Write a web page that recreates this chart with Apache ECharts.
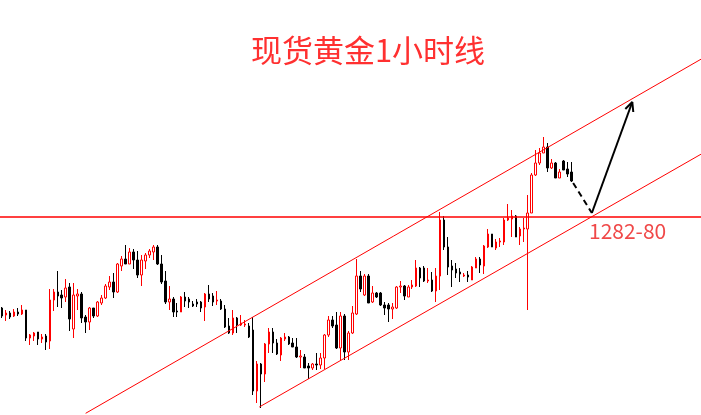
<!DOCTYPE html>
<html>
<head>
<meta charset="utf-8">
<script src="https://cdn.jsdelivr.net/npm/echarts@6/dist/echarts.min.js"></script>
<style>
html,body{margin:0;padding:0;background:#fff;}
#c{width:701px;height:415px;}
</style>
</head>
<body>
<div id="c"></div>
<script>
// ---- data (1-hour spot gold candles) ----
const opens = [
1272.9,1272.2,1272.4,1272.1,1272.5,1272.3,1272.7,1269.9,1270.1,1270.5,
1269.8,1270.1,1269.6,1273.7,1274.5,1274.2,1274.0,1275.0,1270.8,1274.1,
1274.3,1272.0,1271.5,1272.9,1272.1,1273.4,1273.9,1275.0,1275.5,1274.5,
1277.1,1277.8,1277.3,1278.5,1277.7,1276.2,1277.6,1278.2,1278.5,1279.0,
1277.3,1275.6,1273.5,1273.8,1272.6,1272.5,1274.0,1273.8,1273.3,1273.5,
1273.5,1273.0,1274.3,1274.1,1273.6,1273.6,1272.8,1271.1,1270.4,1271.9,
1271.2,1271.2,1271.1,1270.7,1264.6,1267.3,1266.3,1269.3,1270.5,1269.4,
1268.2,1269.8,1270.0,1269.4,1269.0,1268.0,1268.0,1267.1,1266.9,1267.3,
1267.2,1267.9,1270.2,1271.7,1271.2,1268.9,1272.1,1268.5,1270.4,1272.3,
1276.1,1274.2,1276.1,1273.5,1274.4,1274.4,1273.2,1273.2,1272.8,1272.9,
1275.0,1275.1,1274.0,1275.0,1275.1,1276.9,1276.9,1275.6,1275.7,1274.6,
1276.1,1281.7,1279.0,1277.1,1276.8,1276.5,1276.1,1276.2,1275.7,1276.9,
1277.8,1277.1,1279.0,1280.3,1278.9,1279.5,1279.5,1281.7,1281.8,1282.1,
1280.1,1280.8,1280.8,1282.4,1286.2,1287.4,1288.4,1289.0,1286.9,1287.4,
1285.9,1287.6,1286.8,1286.5
];
const closes = [
1272.1,1272.4,1272.0,1272.5,1272.3,1272.7,1269.9,1270.2,1270.4,1269.8,
1270.0,1269.5,1273.7,1274.5,1274.1,1273.9,1274.9,1271.8,1274.2,1274.3,
1271.9,1271.5,1272.9,1272.1,1273.5,1273.9,1275.1,1275.5,1274.5,1277.3,
1277.8,1277.3,1278.5,1277.7,1276.2,1277.7,1278.2,1278.6,1279.0,1277.3,
1275.5,1273.5,1273.8,1272.5,1272.5,1274.0,1273.6,1273.5,1273.1,1273.3,
1272.9,1274.3,1273.8,1273.5,1273.7,1272.8,1271.0,1270.4,1271.9,1271.2,
1271.4,1271.3,1270.0,1264.6,1267.3,1266.3,1269.3,1270.5,1269.4,1268.3,
1269.9,1270.0,1269.3,1269.0,1268.0,1268.1,1266.9,1266.9,1267.3,1267.2,
1267.9,1270.2,1271.7,1271.1,1268.9,1272.1,1268.5,1270.4,1272.4,1276.1,
1274.8,1276.1,1273.4,1274.4,1274.0,1273.2,1272.9,1272.8,1273.0,1275.0,
1275.1,1274.1,1275.0,1275.2,1276.9,1275.9,1275.6,1275.7,1274.6,1276.1,
1281.7,1279.0,1277.0,1276.7,1276.4,1276.3,1276.2,1276.0,1277.0,1277.8,
1277.2,1279.1,1280.3,1279.0,1279.5,1279.6,1281.7,1281.9,1282.1,1280.0,
1280.8,1280.9,1282.4,1286.2,1287.4,1288.4,1289.0,1286.9,1287.4,1285.9,
1286.5,1286.7,1286.3,1285.6
];
const lows = [
1271.9,1271.6,1271.8,1272.0,1272.1,1272.2,1269.6,1269.2,1269.6,1269.2,
1269.4,1268.7,1268.8,1272.6,1273.0,1272.9,1273.5,1270.6,1269.9,1272.7,
1271.4,1270.4,1270.7,1271.9,1272.0,1273.2,1273.8,1274.7,1273.9,1274.4,
1276.6,1277.3,1277.3,1276.8,1275.9,1275.1,1276.8,1277.9,1277.7,1277.2,
1275.3,1273.3,1272.7,1272.0,1272.0,1272.5,1273.0,1272.9,1273.0,1273.0,
1272.5,1271.6,1273.5,1273.1,1273.2,1272.7,1270.9,1270.3,1270.2,1270.4,
1271.1,1271.0,1269.9,1264.2,1263.4,1262.9,1265.5,1268.4,1268.4,1268.2,
1267.6,1269.6,1269.2,1269.0,1267.9,1266.9,1266.9,1265.8,1266.7,1266.7,
1266.8,1266.8,1270.0,1270.9,1268.8,1267.7,1267.7,1267.7,1270.3,1272.2,
1274.5,1274.1,1273.4,1273.4,1273.9,1273.1,1272.2,1271.5,1271.8,1272.8,
1274.4,1273.7,1274.0,1274.8,1275.0,1275.0,1275.5,1275.4,1274.5,1273.5,
1274.7,1278.7,1276.2,1275.0,1275.9,1275.5,1276.0,1275.5,1275.7,1276.9,
1276.4,1276.3,1278.9,1279.0,1278.7,1279.0,1279.2,1281.6,1280.0,1280.0,
1279.2,1279.5,1272.7,1282.4,1286.1,1287.2,1288.4,1286.5,1286.8,1285.9,
1285.9,1286.7,1286.0,1285.5
];
const highs = [
1273.0,1272.7,1272.6,1272.8,1272.9,1273.2,1272.7,1270.3,1270.5,1270.5,
1270.3,1270.3,1274.8,1274.8,1276.6,1274.7,1275.8,1275.4,1275.4,1274.8,
1274.5,1272.2,1273.0,1272.9,1273.6,1274.2,1275.3,1276.1,1276.4,1277.4,
1278.1,1279.2,1278.9,1278.8,1278.6,1278.2,1278.4,1278.8,1279.2,1279.2,
1278.2,1276.6,1275.1,1274.0,1273.4,1274.1,1274.5,1274.0,1273.6,1273.8,
1273.6,1274.4,1275.2,1274.4,1274.6,1273.8,1273.2,1271.9,1272.7,1272.0,
1272.2,1271.7,1271.4,1272.0,1267.6,1267.4,1269.4,1270.9,1270.9,1269.8,
1270.0,1270.4,1270.1,1269.9,1269.9,1268.7,1268.3,1267.4,1267.4,1268.4,
1268.4,1270.3,1272.1,1272.1,1272.5,1272.5,1272.3,1270.6,1273.1,1277.8,
1276.6,1276.3,1276.3,1275.1,1274.5,1274.5,1273.5,1273.4,1273.4,1275.1,
1275.6,1275.2,1275.2,1275.7,1277.7,1277.0,1277.1,1276.9,1276.5,1276.9,
1282.5,1282.1,1280.0,1277.7,1277.4,1276.9,1276.4,1276.6,1277.1,1278.0,
1278.0,1279.2,1280.8,1280.3,1279.8,1279.9,1281.9,1283.3,1282.7,1282.2,
1281.0,1281.9,1284.2,1286.4,1288.7,1288.9,1290.0,1289.4,1287.8,1287.5,
1286.8,1287.7,1287.5,1287.5
];
// annotation lines: [bar index, price]
const supportLevel = 1282.0;
const upperChannel = [[21, 1262.37], [175.5, 1297.78]];
const lowerChannel = [[64.6, 1263.0], [175.5, 1288.28]];
const dashedPath  = [[143.4, 1285.4], [148.1, 1282.4]];
const arrowPath   = [[148.1, 1282.4], [158.25, 1293.5]];
const arrowHead   = [[156.5, 1292.8], [158.25, 1293.5], [158.5, 1292.5]];
const titleText = '现货黄金1小时线';
const levelLabel = '1282-80';
const totalSlots = 176;  // bars + empty space on the right
const yMin = 1262.2, yMax = 1303.7;

// ---- build ----
const categories = [];
for (let i = 0; i < totalSlots; i++) categories.push(String(i));
const ohlc = opens.map((o, i) => [o, closes[i], lows[i], highs[i]]);

const chart = echarts.init(document.getElementById('c'), null, {renderer: 'canvas'});
const lineSeries = (data, style) => ({
  type: 'line', xAxisIndex: 1, yAxisIndex: 0, data: data,
  symbol: 'none', silent: true, animation: false,
  lineStyle: style
});
chart.setOption({
  animation: false,
  backgroundColor: '#ffffff',
  grid: {left: -1.5, top: 0, width: 4 * totalSlots, height: 415, containLabel: false},
  xAxis: [
    {type: 'category', data: categories, show: false, boundaryGap: true},
    {type: 'value', min: -0.5, max: totalSlots - 0.5, show: false}
  ],
  yAxis: {type: 'value', min: yMin, max: yMax, show: false, splitLine: {show: false}},
  series: [
    {
      type: 'candlestick', data: ohlc, barWidth: 2,
      itemStyle: {color: '#ffffff', color0: '#000000', borderColor: '#ff0000', borderColor0: '#000000', borderWidth: 1}
    },
    lineSeries([[-0.5, supportLevel], [totalSlots - 0.5, supportLevel]], {color: '#ff0000', width: 1.5}),
    lineSeries(upperChannel, {color: '#ff0000', width: 1}),
    lineSeries(lowerChannel, {color: '#ff0000', width: 1}),
    lineSeries(dashedPath, {color: '#000000', width: 2, type: [6, 4]}),
    lineSeries(arrowPath, {color: '#000000', width: 2}),
    lineSeries(arrowHead, {color: '#000000', width: 2})
  ],
  graphic: [
    {type: 'text', x: 368, y: 50, silent: true,
     style: {text: titleText, fill: '#ff3030', font: '31px "Noto Sans CJK SC"', align: 'center', verticalAlign: 'middle'}},
    {type: 'text', x: 589, y: 231, silent: true,
     style: {text: levelLabel, fill: '#f04848', font: '21px "Noto Sans CJK SC"', align: 'left', verticalAlign: 'middle'}}
  ]
});
</script>
</body>
</html>
